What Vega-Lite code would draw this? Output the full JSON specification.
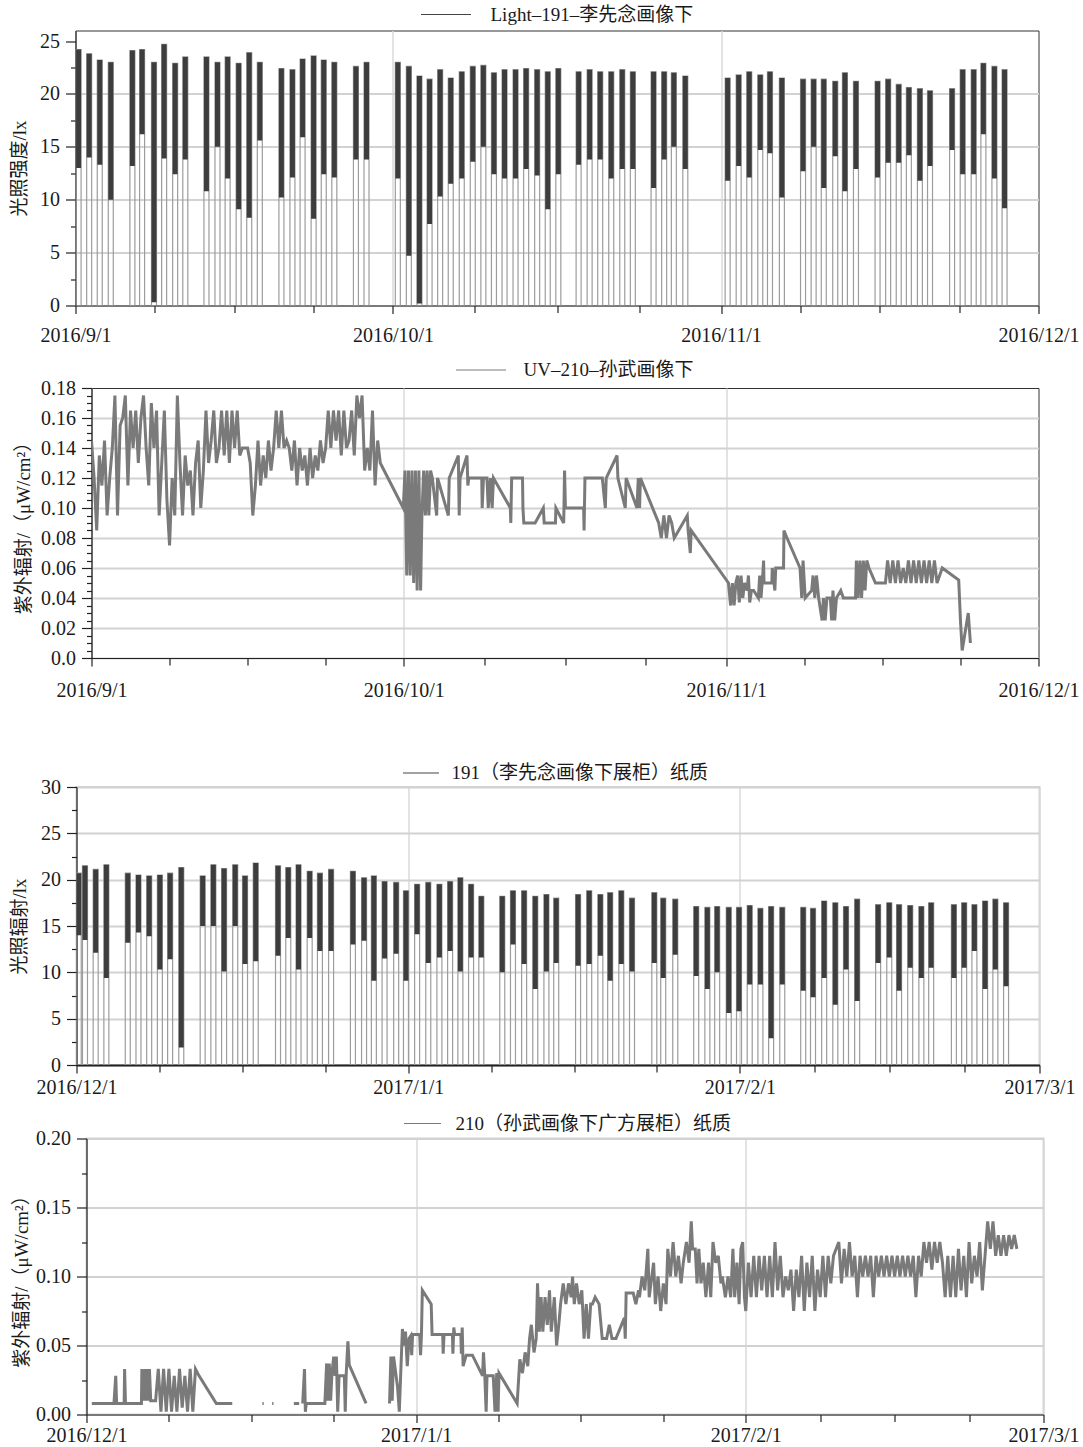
{
"$schema":"https://vega.github.io/schema/vega-lite/v6.json",
"padding":{"left":2.5,"top":4.5,"right":3,"bottom":0},
"align":"none",
"spacing":62.5,
"resolve":{"scale":{"x":"independent","y":"independent","color":"independent"},"legend":{"color":"independent"}},
"vconcat":[
{"align":"none","spacing":13.5,
"resolve":{"scale":{"x":"independent","y":"independent","color":"independent"},"legend":{"color":"independent"}},
"vconcat":[
{"spacing":0,"hconcat":[
{"width":6.3,"height":10,"view":{"stroke":null},"data":{"values":[{"a":0}]},"mark":{"type":"point","opacity":0},"encoding":{}},
{
"width":963,"height":275,
"view":{"stroke":"#333","strokeWidth":1},
"data":{"values":[
{"t":"2016-09-01T07:00","hi":24.2,"lo":13},
{"t":"2016-09-02T07:00","hi":23.8,"lo":14},
{"t":"2016-09-03T07:00","hi":23.2,"lo":13.3},
{"t":"2016-09-04T08:00","hi":23,"lo":10},
{"t":"2016-09-06T09:00","hi":24.1,"lo":13.2},
{"t":"2016-09-07T07:00","hi":24.2,"lo":16.2},
{"t":"2016-09-08T10:00","hi":23,"lo":0.3},
{"t":"2016-09-09T09:00","hi":24.7,"lo":13.9},
{"t":"2016-09-10T10:00","hi":22.9,"lo":12.4},
{"t":"2016-09-11T09:00","hi":23.5,"lo":13.8},
{"t":"2016-09-13T09:00","hi":23.5,"lo":10.8},
{"t":"2016-09-14T10:00","hi":23,"lo":15},
{"t":"2016-09-15T09:00","hi":23.5,"lo":12},
{"t":"2016-09-16T10:00","hi":22.9,"lo":9.1},
{"t":"2016-09-17T10:00","hi":23.9,"lo":8.3},
{"t":"2016-09-18T10:00","hi":23,"lo":15.6},
{"t":"2016-09-20T11:00","hi":22.4,"lo":10.2},
{"t":"2016-09-21T12:00","hi":22.3,"lo":12.1},
{"t":"2016-09-22T11:00","hi":23.3,"lo":15.9},
{"t":"2016-09-23T12:00","hi":23.6,"lo":8.2},
{"t":"2016-09-24T11:00","hi":23.2,"lo":12.4},
{"t":"2016-09-25T11:00","hi":23,"lo":12.1},
{"t":"2016-09-27T12:00","hi":22.6,"lo":13.8},
{"t":"2016-09-28T12:00","hi":23,"lo":13.8},
{"t":"2016-10-01T11:00","hi":23,"lo":12},
{"t":"2016-10-02T12:00","hi":22.6,"lo":4.7},
{"t":"2016-10-03T12:00","hi":21.7,"lo":0.2},
{"t":"2016-10-04T11:00","hi":21.4,"lo":7.7},
{"t":"2016-10-05T11:00","hi":22.3,"lo":10.3},
{"t":"2016-10-06T11:00","hi":21.5,"lo":11.5},
{"t":"2016-10-07T12:00","hi":22.1,"lo":12},
{"t":"2016-10-08T13:00","hi":22.6,"lo":13.6},
{"t":"2016-10-09T13:00","hi":22.7,"lo":15},
{"t":"2016-10-10T13:00","hi":22,"lo":12.4},
{"t":"2016-10-11T13:00","hi":22.3,"lo":12},
{"t":"2016-10-12T14:00","hi":22.3,"lo":12},
{"t":"2016-10-13T14:00","hi":22.4,"lo":12.9},
{"t":"2016-10-14T15:00","hi":22.3,"lo":12.3},
{"t":"2016-10-15T15:00","hi":22.1,"lo":9.1},
{"t":"2016-10-16T15:00","hi":22.4,"lo":12.4},
{"t":"2016-10-18T13:00","hi":22.1,"lo":13.3},
{"t":"2016-10-19T14:00","hi":22.3,"lo":13.8},
{"t":"2016-10-20T14:00","hi":22.1,"lo":13.8},
{"t":"2016-10-21T15:00","hi":22.1,"lo":12},
{"t":"2016-10-22T16:00","hi":22.3,"lo":12.9},
{"t":"2016-10-23T16:00","hi":22.1,"lo":12.9},
{"t":"2016-10-25T15:00","hi":22.1,"lo":11.1},
{"t":"2016-10-26T15:00","hi":22.1,"lo":13.8},
{"t":"2016-10-27T13:00","hi":22,"lo":15},
{"t":"2016-10-28T15:00","hi":21.7,"lo":12.9},
{"t":"2016-11-01T15:00","hi":21.5,"lo":11.8},
{"t":"2016-11-02T16:00","hi":21.8,"lo":13.2},
{"t":"2016-11-03T16:00","hi":22.1,"lo":12.1},
{"t":"2016-11-04T17:00","hi":21.8,"lo":14.7},
{"t":"2016-11-05T15:00","hi":22.1,"lo":14.4},
{"t":"2016-11-06T18:00","hi":21.5,"lo":10.2},
{"t":"2016-11-08T18:00","hi":21.4,"lo":12.7},
{"t":"2016-11-09T18:00","hi":21.4,"lo":15},
{"t":"2016-11-10T17:00","hi":21.4,"lo":11.1},
{"t":"2016-11-11T19:00","hi":21.2,"lo":14.1},
{"t":"2016-11-12T17:00","hi":22,"lo":10.8},
{"t":"2016-11-13T18:00","hi":21.2,"lo":12.9},
{"t":"2016-11-15T19:00","hi":21.2,"lo":12.1},
{"t":"2016-11-16T19:00","hi":21.4,"lo":13.5},
{"t":"2016-11-17T19:00","hi":20.9,"lo":13.5},
{"t":"2016-11-18T18:00","hi":20.6,"lo":14.2},
{"t":"2016-11-19T19:00","hi":20.5,"lo":11.8},
{"t":"2016-11-20T18:00","hi":20.3,"lo":13.2},
{"t":"2016-11-22T20:00","hi":20.5,"lo":14.7},
{"t":"2016-11-23T20:00","hi":22.3,"lo":12.4},
{"t":"2016-11-24T21:00","hi":22.3,"lo":12.4},
{"t":"2016-11-25T19:00","hi":22.9,"lo":16.2},
{"t":"2016-11-26T20:00","hi":22.6,"lo":12},
{"t":"2016-11-27T19:00","hi":22.3,"lo":9.2}
]},
"resolve":{"axis":{"x":"independent","y":"independent"}},
"layer":[
{"mark":{"type":"bar","width":5,"fillOpacity":0,"stroke":"#9c9c9c","strokeWidth":1.2,"clip":true},
"encoding":{
"x":{"field":"t","type":"temporal","scale":{"domain":[{"year":2016,"month":9,"date":1},{"year":2016,"month":12,"date":1}],"padding":0},
"axis":{"values":[{"year":2016,"month":9,"date":1},{"year":2016,"month":10,"date":1},{"year":2016,"month":11,"date":1},{"year":2016,"month":12,"date":1}],"format":"%Y/%-m/%-d","title":null,"grid":true,"gridOpacity":{"condition":{"test":"month(datum.value)==11","value":0},"value":1},"tickSize":8,"labelPadding":12,"labelFlush":false,"orient":"bottom"}},
"y":{"field":"hi","type":"quantitative","scale":{"domain":[0,25]},
"axis":{"values":[0,5,10,15,20,25],"title":"光照强度/lx","tickSize":10,"labelPadding":6,"minExtent":36,"maxExtent":36,"titlePadding":10.4,"grid":true,"gridOpacity":{"condition":{"test":"datum.value==25","value":0},"value":1},"orient":"left"}}
}},
{"mark":{"type":"bar","width":5,"clip":true},
"encoding":{
"x":{"field":"t","type":"temporal","axis":{"values":[{"year":2016,"month":9,"date":8,"hours":12},{"year":2016,"month":9,"date":16},{"year":2016,"month":9,"date":23,"hours":12},{"year":2016,"month":10,"date":8,"hours":18},{"year":2016,"month":10,"date":16,"hours":12},{"year":2016,"month":10,"date":24,"hours":6},{"year":2016,"month":11,"date":8,"hours":12},{"year":2016,"month":11,"date":16},{"year":2016,"month":11,"date":23,"hours":12}],"labels":false,"domain":false,"grid":false,"tickSize":7,"title":null,"orient":"bottom"}},
"y":{"field":"hi","type":"quantitative","axis":{"values":[2.5,7.5,12.5,17.5,22.5],"labels":false,"domain":false,"grid":false,"tickSize":5,"title":null,"orient":"left","minExtent":0}},
"y2":{"field":"lo"},
"color":{"datum":"Light–191–李先念画像下","scale":{"range":["#3d3d3d"]},
"legend":{"title":null,"orient":"none","legendX":434,"legendY":-25.5,"symbolType":"M-5,0H5","symbolSize":100,"symbolStrokeColor":"#444","symbolStrokeWidth":1,"labelOffset":35,"labelLimit":600,
"encode":{"symbols":{"update":{"stroke":{"value":"#444"},"strokeWidth":{"value":1},"fill":{"value":"transparent"}}}}}}
}}
]
}
]},
{"spacing":0,"hconcat":[
{"width":10.5,"height":10,"view":{"stroke":null},"data":{"values":[{"a":0}]},"mark":{"type":"point","opacity":0},"encoding":{}},
{
"width":947,"height":270,
"view":{"stroke":"#333","strokeWidth":1},
"data":{"values":[
{"t":"2016-09-01T00:00","v":0.145},{"t":"2016-09-01T06:00","v":0.12},{"t":"2016-09-01T12:00","v":0.085},{"t":"2016-09-01T18:00","v":0.135},
{"t":"2016-09-02T00:00","v":0.115},{"t":"2016-09-02T06:00","v":0.145},{"t":"2016-09-02T12:00","v":0.095},{"t":"2016-09-02T18:00","v":0.12},
{"t":"2016-09-03T00:00","v":0.14},{"t":"2016-09-03T06:00","v":0.175},{"t":"2016-09-03T12:00","v":0.095},{"t":"2016-09-03T18:00","v":0.155},
{"t":"2016-09-04T00:00","v":0.16},{"t":"2016-09-04T06:00","v":0.175},{"t":"2016-09-04T12:00","v":0.115},{"t":"2016-09-04T18:00","v":0.165},
{"t":"2016-09-05T00:00","v":0.14},{"t":"2016-09-05T06:00","v":0.165},{"t":"2016-09-05T12:00","v":0.13},{"t":"2016-09-05T18:00","v":0.16},
{"t":"2016-09-06T00:00","v":0.175},{"t":"2016-09-06T06:00","v":0.14},{"t":"2016-09-06T12:00","v":0.115},{"t":"2016-09-06T18:00","v":0.17},
{"t":"2016-09-07T00:00","v":0.14},{"t":"2016-09-07T06:00","v":0.165},{"t":"2016-09-07T12:00","v":0.095},{"t":"2016-09-07T18:00","v":0.13},
{"t":"2016-09-08T00:00","v":0.165},{"t":"2016-09-08T06:00","v":0.105},{"t":"2016-09-08T12:00","v":0.075},{"t":"2016-09-08T18:00","v":0.12},
{"t":"2016-09-09T00:00","v":0.095},{"t":"2016-09-09T06:00","v":0.175},{"t":"2016-09-09T12:00","v":0.13},{"t":"2016-09-09T18:00","v":0.095},
{"t":"2016-09-10T00:00","v":0.135},{"t":"2016-09-10T06:00","v":0.115},{"t":"2016-09-10T12:00","v":0.125},{"t":"2016-09-10T18:00","v":0.095},
{"t":"2016-09-11T00:00","v":0.13},{"t":"2016-09-11T06:00","v":0.145},{"t":"2016-09-11T12:00","v":0.1},{"t":"2016-09-11T18:00","v":0.125},
{"t":"2016-09-12T00:00","v":0.165},{"t":"2016-09-12T06:00","v":0.13},{"t":"2016-09-12T12:00","v":0.145},{"t":"2016-09-12T18:00","v":0.165},
{"t":"2016-09-13T00:00","v":0.13},{"t":"2016-09-13T06:00","v":0.14},{"t":"2016-09-13T12:00","v":0.165},{"t":"2016-09-13T18:00","v":0.135},
{"t":"2016-09-14T00:00","v":0.165},{"t":"2016-09-14T06:00","v":0.13},{"t":"2016-09-14T12:00","v":0.165},{"t":"2016-09-14T18:00","v":0.14},
{"t":"2016-09-15T00:00","v":0.165},{"t":"2016-09-15T06:00","v":0.135},{"t":"2016-09-15T12:00","v":0.14},{"t":"2016-09-15T18:00","v":0.14},
{"t":"2016-09-16T00:00","v":0.14},{"t":"2016-09-16T06:00","v":0.13},{"t":"2016-09-16T12:00","v":0.095},{"t":"2016-09-16T18:00","v":0.115},
{"t":"2016-09-17T00:00","v":0.145},{"t":"2016-09-17T06:00","v":0.115},{"t":"2016-09-17T12:00","v":0.135},{"t":"2016-09-17T18:00","v":0.12},
{"t":"2016-09-18T00:00","v":0.145},{"t":"2016-09-18T06:00","v":0.125},{"t":"2016-09-18T12:00","v":0.14},{"t":"2016-09-18T18:00","v":0.165},
{"t":"2016-09-19T00:00","v":0.14},{"t":"2016-09-19T06:00","v":0.165},{"t":"2016-09-19T12:00","v":0.14},{"t":"2016-09-19T18:00","v":0.145},
{"t":"2016-09-20T00:00","v":0.14},{"t":"2016-09-20T06:00","v":0.125},{"t":"2016-09-20T12:00","v":0.145},{"t":"2016-09-20T18:00","v":0.115},
{"t":"2016-09-21T00:00","v":0.14},{"t":"2016-09-21T06:00","v":0.125},{"t":"2016-09-21T12:00","v":0.135},{"t":"2016-09-21T18:00","v":0.115},
{"t":"2016-09-22T00:00","v":0.14},{"t":"2016-09-22T06:00","v":0.12},{"t":"2016-09-22T12:00","v":0.135},{"t":"2016-09-22T18:00","v":0.125},
{"t":"2016-09-23T00:00","v":0.145},{"t":"2016-09-23T06:00","v":0.13},{"t":"2016-09-23T12:00","v":0.14},{"t":"2016-09-23T18:00","v":0.165},
{"t":"2016-09-24T00:00","v":0.14},{"t":"2016-09-24T06:00","v":0.165},{"t":"2016-09-24T12:00","v":0.145},{"t":"2016-09-24T18:00","v":0.165},
{"t":"2016-09-25T00:00","v":0.135},{"t":"2016-09-25T06:00","v":0.165},{"t":"2016-09-25T12:00","v":0.14},{"t":"2016-09-25T18:00","v":0.145},
{"t":"2016-09-26T00:00","v":0.165},{"t":"2016-09-26T06:00","v":0.135},{"t":"2016-09-26T12:00","v":0.175},{"t":"2016-09-26T18:00","v":0.16},
{"t":"2016-09-27T00:00","v":0.175},{"t":"2016-09-27T06:00","v":0.125},{"t":"2016-09-27T12:00","v":0.14},{"t":"2016-09-27T18:00","v":0.125},
{"t":"2016-09-28T00:00","v":0.165},{"t":"2016-09-28T06:00","v":0.115},{"t":"2016-09-28T12:00","v":0.145},{"t":"2016-09-28T18:00","v":0.13},
{"t":"2016-09-30T23:00","v":0.1},
{"t":"2016-10-01T03:00","v":0.125},{"t":"2016-10-01T07:00","v":0.055},{"t":"2016-10-01T11:00","v":0.125},{"t":"2016-10-01T15:00","v":0.055},{"t":"2016-10-01T19:00","v":0.125},{"t":"2016-10-01T23:00","v":0.05},
{"t":"2016-10-02T03:00","v":0.125},{"t":"2016-10-02T07:00","v":0.045},{"t":"2016-10-02T11:00","v":0.125},{"t":"2016-10-02T15:00","v":0.045},{"t":"2016-10-02T18:00","v":0.095},{"t":"2016-10-02T22:00","v":0.125},
{"t":"2016-10-03T02:00","v":0.095},{"t":"2016-10-03T06:00","v":0.125},{"t":"2016-10-03T10:00","v":0.095},{"t":"2016-10-03T14:00","v":0.125},{"t":"2016-10-03T18:00","v":0.12},
{"t":"2016-10-04T04:00","v":0.095},{"t":"2016-10-04T06:00","v":0.12},{"t":"2016-10-05T07:00","v":0.095},{"t":"2016-10-05T09:00","v":0.12},
{"t":"2016-10-06T06:00","v":0.135},{"t":"2016-10-06T08:00","v":0.095},{"t":"2016-10-06T10:00","v":0.12},
{"t":"2016-10-07T02:00","v":0.135},{"t":"2016-10-07T04:00","v":0.115},{"t":"2016-10-07T06:00","v":0.12},
{"t":"2016-10-08T12:00","v":0.12},{"t":"2016-10-08T13:00","v":0.1},{"t":"2016-10-08T16:00","v":0.12},
{"t":"2016-10-09T00:00","v":0.12},{"t":"2016-10-09T03:00","v":0.1},{"t":"2016-10-09T08:00","v":0.12},{"t":"2016-10-09T12:00","v":0.1},{"t":"2016-10-09T15:00","v":0.12},
{"t":"2016-10-11T06:00","v":0.1},{"t":"2016-10-11T07:00","v":0.09},{"t":"2016-10-11T09:00","v":0.12},
{"t":"2016-10-12T10:00","v":0.12},{"t":"2016-10-12T11:00","v":0.1},{"t":"2016-10-12T13:00","v":0.09},
{"t":"2016-10-13T15:00","v":0.09},{"t":"2016-10-14T10:00","v":0.1},{"t":"2016-10-14T12:00","v":0.09},
{"t":"2016-10-15T14:00","v":0.09},{"t":"2016-10-15T15:00","v":0.1},
{"t":"2016-10-16T09:00","v":0.09},{"t":"2016-10-16T11:00","v":0.125},{"t":"2016-10-16T13:00","v":0.1},
{"t":"2016-10-18T07:00","v":0.1},{"t":"2016-10-18T08:00","v":0.085},{"t":"2016-10-18T10:00","v":0.12},
{"t":"2016-10-20T02:00","v":0.12},{"t":"2016-10-20T09:00","v":0.1},{"t":"2016-10-20T11:00","v":0.12},
{"t":"2016-10-21T12:00","v":0.135},{"t":"2016-10-21T14:00","v":0.12},
{"t":"2016-10-22T07:00","v":0.1},{"t":"2016-10-22T09:00","v":0.12},
{"t":"2016-10-23T10:00","v":0.1},{"t":"2016-10-23T13:00","v":0.12},{"t":"2016-10-23T16:00","v":0.1},{"t":"2016-10-23T18:00","v":0.12},
{"t":"2016-10-25T12:00","v":0.09},{"t":"2016-10-25T18:00","v":0.08},
{"t":"2016-10-26T00:00","v":0.095},{"t":"2016-10-26T06:00","v":0.08},{"t":"2016-10-26T12:00","v":0.095},{"t":"2016-10-26T18:00","v":0.09},
{"t":"2016-10-27T00:00","v":0.08},{"t":"2016-10-27T10:00","v":0.085},
{"t":"2016-10-28T06:00","v":0.095},{"t":"2016-10-28T08:00","v":0.085},{"t":"2016-10-28T13:00","v":0.07},{"t":"2016-10-28T15:00","v":0.085},
{"t":"2016-11-01T05:00","v":0.05},{"t":"2016-11-01T10:00","v":0.035},{"t":"2016-11-01T14:00","v":0.05},{"t":"2016-11-01T18:00","v":0.035},{"t":"2016-11-01T22:00","v":0.05},
{"t":"2016-11-02T02:00","v":0.055},{"t":"2016-11-02T06:00","v":0.037},{"t":"2016-11-02T10:00","v":0.055},{"t":"2016-11-02T14:00","v":0.04},{"t":"2016-11-02T18:00","v":0.05},
{"t":"2016-11-03T00:00","v":0.045},{"t":"2016-11-03T03:00","v":0.055},{"t":"2016-11-03T06:00","v":0.037},{"t":"2016-11-03T10:00","v":0.045},{"t":"2016-11-03T15:00","v":0.045},
{"t":"2016-11-04T02:00","v":0.04},{"t":"2016-11-04T05:00","v":0.055},{"t":"2016-11-04T08:00","v":0.04},{"t":"2016-11-04T12:00","v":0.055},{"t":"2016-11-04T14:00","v":0.065},{"t":"2016-11-04T15:00","v":0.05},
{"t":"2016-11-05T09:00","v":0.05},{"t":"2016-11-05T10:00","v":0.06},{"t":"2016-11-05T16:00","v":0.045},{"t":"2016-11-05T18:00","v":0.06},
{"t":"2016-11-06T12:00","v":0.06},{"t":"2016-11-06T13:00","v":0.085},{"t":"2016-11-06T20:00","v":0.08},
{"t":"2016-11-08T02:00","v":0.06},{"t":"2016-11-08T06:00","v":0.04},{"t":"2016-11-08T09:00","v":0.065},{"t":"2016-11-08T14:00","v":0.04},
{"t":"2016-11-09T05:00","v":0.045},{"t":"2016-11-09T08:00","v":0.055},{"t":"2016-11-09T12:00","v":0.04},{"t":"2016-11-09T16:00","v":0.055},{"t":"2016-11-09T21:00","v":0.04},
{"t":"2016-11-10T05:00","v":0.025},{"t":"2016-11-10T08:00","v":0.04},{"t":"2016-11-10T12:00","v":0.025},{"t":"2016-11-10T16:00","v":0.04},
{"t":"2016-11-11T00:00","v":0.04},{"t":"2016-11-11T03:00","v":0.025},{"t":"2016-11-11T06:00","v":0.045},{"t":"2016-11-11T10:00","v":0.025},{"t":"2016-11-11T14:00","v":0.04},
{"t":"2016-11-12T00:00","v":0.045},{"t":"2016-11-12T06:00","v":0.04},{"t":"2016-11-13T10:00","v":0.04},
{"t":"2016-11-13T12:00","v":0.065},{"t":"2016-11-13T16:00","v":0.04},{"t":"2016-11-13T20:00","v":0.065},
{"t":"2016-11-14T00:00","v":0.04},{"t":"2016-11-14T04:00","v":0.065},{"t":"2016-11-14T08:00","v":0.045},{"t":"2016-11-14T12:00","v":0.065},{"t":"2016-11-14T17:00","v":0.06},
{"t":"2016-11-15T08:00","v":0.05},{"t":"2016-11-16T07:00","v":0.05},{"t":"2016-11-16T12:00","v":0.065},{"t":"2016-11-16T18:00","v":0.05},
{"t":"2016-11-17T00:00","v":0.065},{"t":"2016-11-17T06:00","v":0.05},{"t":"2016-11-17T12:00","v":0.065},{"t":"2016-11-17T18:00","v":0.05},
{"t":"2016-11-18T00:00","v":0.06},{"t":"2016-11-18T06:00","v":0.05},{"t":"2016-11-18T12:00","v":0.065},{"t":"2016-11-18T18:00","v":0.05},
{"t":"2016-11-19T00:00","v":0.065},{"t":"2016-11-19T06:00","v":0.05},{"t":"2016-11-19T12:00","v":0.065},{"t":"2016-11-19T18:00","v":0.05},
{"t":"2016-11-20T00:00","v":0.065},{"t":"2016-11-20T06:00","v":0.05},{"t":"2016-11-20T12:00","v":0.065},{"t":"2016-11-20T18:00","v":0.05},
{"t":"2016-11-21T00:00","v":0.065},{"t":"2016-11-21T06:00","v":0.05},{"t":"2016-11-21T18:00","v":0.06},
{"t":"2016-11-23T08:00","v":0.052},{"t":"2016-11-23T12:00","v":0.025},{"t":"2016-11-23T16:00","v":0.005},{"t":"2016-11-24T06:00","v":0.03},{"t":"2016-11-24T11:00","v":0.01}
]},
"resolve":{"axis":{"x":"independent","y":"independent"}},
"layer":[
{"mark":{"type":"line","strokeWidth":3,"clip":true},
"encoding":{
"x":{"field":"t","type":"temporal","scale":{"domain":[{"year":2016,"month":9,"date":1},{"year":2016,"month":12,"date":1}],"padding":0},
"axis":{"values":[{"year":2016,"month":9,"date":1},{"year":2016,"month":10,"date":1},{"year":2016,"month":11,"date":1},{"year":2016,"month":12,"date":1}],"format":"%Y/%-m/%-d","title":null,"grid":true,"gridOpacity":{"condition":{"test":"month(datum.value)==11","value":0},"value":1},"tickSize":8,"labelPadding":14,"labelFlush":false,"orient":"bottom"}},
"y":{"field":"v","type":"quantitative","scale":{"domain":[0,0.18]},
"axis":{"values":[0,0.02,0.04,0.06,0.08,0.1,0.12,0.14,0.16,0.18],"labelExpr":"datum.value==0 ? '0.0' : format(datum.value,'.2f')","title":"紫外辐射/（μW/cm²）","tickSize":10,"labelPadding":6,"minExtent":51,"maxExtent":51,"titlePadding":7.2,"grid":true,"gridOpacity":{"condition":{"test":"datum.value>0.179","value":0},"value":1},"orient":"left"}},
"color":{"datum":"UV–210–孙武画像下","scale":{"range":["#7a7a7a"]},
"legend":{"title":null,"orient":"none","legendX":469,"legendY":-27.5,"symbolType":"M-5,0H5","symbolSize":100,"symbolStrokeColor":"#444","symbolStrokeWidth":1,"labelOffset":33,"labelLimit":600,
"encode":{"symbols":{"update":{"stroke":{"value":"#444"},"strokeWidth":{"value":1},"fill":{"value":"transparent"}}}}}}
}},
{"mark":{"type":"point","opacity":0},
"encoding":{
"x":{"field":"t","type":"temporal","axis":{"values":[{"year":2016,"month":9,"date":8,"hours":12},{"year":2016,"month":9,"date":16},{"year":2016,"month":9,"date":23,"hours":12},{"year":2016,"month":10,"date":8,"hours":18},{"year":2016,"month":10,"date":16,"hours":12},{"year":2016,"month":10,"date":24,"hours":6},{"year":2016,"month":11,"date":8,"hours":12},{"year":2016,"month":11,"date":16},{"year":2016,"month":11,"date":23,"hours":12}],"labels":false,"domain":false,"grid":false,"tickSize":7,"title":null,"orient":"bottom"}},
"y":{"field":"v","type":"quantitative","axis":{"values":[0.005,0.01,0.015,0.025,0.03,0.035,0.045,0.05,0.055,0.065,0.07,0.075,0.085,0.09,0.095,0.105,0.11,0.115,0.125,0.13,0.135,0.145,0.15,0.155,0.165,0.17,0.175],"labels":false,"domain":false,"grid":false,"tickSize":5,"title":null,"orient":"left","minExtent":0}}
}}
]
}
]}
]},
{"align":"none","spacing":15.5,
"resolve":{"scale":{"x":"independent","y":"independent","color":"independent"},"legend":{"color":"independent"}},
"vconcat":[
{"spacing":0,"hconcat":[
{"width":6.5,"height":10,"view":{"stroke":null},"data":{"values":[{"a":0}]},"mark":{"type":"point","opacity":0},"encoding":{}},
{
"width":963,"height":278,
"view":{"stroke":"#d4d4d4","strokeWidth":2},
"data":{"values":[
{"t":"2016-12-01T05:00","hi":20.7,"lo":14},
{"t":"2016-12-01T19:00","hi":21.5,"lo":13.5},
{"t":"2016-12-02T19:00","hi":21.1,"lo":12.1},
{"t":"2016-12-03T19:00","hi":21.6,"lo":9.4},
{"t":"2016-12-05T19:00","hi":20.7,"lo":13.2},
{"t":"2016-12-06T19:00","hi":20.5,"lo":14.3},
{"t":"2016-12-07T19:00","hi":20.4,"lo":13.9},
{"t":"2016-12-08T19:00","hi":20.5,"lo":10.3},
{"t":"2016-12-09T18:00","hi":20.7,"lo":11.4},
{"t":"2016-12-10T19:00","hi":21.3,"lo":1.9},
{"t":"2016-12-12T19:00","hi":20.4,"lo":15},
{"t":"2016-12-13T19:00","hi":21.6,"lo":15},
{"t":"2016-12-14T19:00","hi":21.2,"lo":10.1},
{"t":"2016-12-15T20:00","hi":21.6,"lo":15},
{"t":"2016-12-16T18:00","hi":20.4,"lo":10.9},
{"t":"2016-12-17T18:00","hi":21.8,"lo":11.2},
{"t":"2016-12-19T20:00","hi":21.5,"lo":11.8},
{"t":"2016-12-20T19:00","hi":21.3,"lo":13.7},
{"t":"2016-12-21T18:00","hi":21.6,"lo":10.3},
{"t":"2016-12-22T19:00","hi":20.9,"lo":13.7},
{"t":"2016-12-23T18:00","hi":20.7,"lo":12.3},
{"t":"2016-12-24T19:00","hi":21.1,"lo":12.3},
{"t":"2016-12-26T20:00","hi":20.9,"lo":13},
{"t":"2016-12-27T21:00","hi":20.2,"lo":13.4},
{"t":"2016-12-28T19:00","hi":20.4,"lo":9.1},
{"t":"2016-12-29T19:00","hi":19.8,"lo":11.5},
{"t":"2016-12-30T21:00","hi":19.7,"lo":12},
{"t":"2016-12-31T19:00","hi":18.8,"lo":9.1},
{"t":"2017-01-01T20:00","hi":19.5,"lo":14.1},
{"t":"2017-01-02T21:00","hi":19.7,"lo":11},
{"t":"2017-01-03T22:00","hi":19.5,"lo":11.6},
{"t":"2017-01-04T22:00","hi":19.8,"lo":12.3},
{"t":"2017-01-05T21:00","hi":20.2,"lo":10.1},
{"t":"2017-01-06T21:00","hi":19.5,"lo":11.6},
{"t":"2017-01-07T20:00","hi":18.2,"lo":11.6},
{"t":"2017-01-09T19:00","hi":18.2,"lo":10},
{"t":"2017-01-10T19:00","hi":18.8,"lo":13},
{"t":"2017-01-11T20:00","hi":18.8,"lo":10.9},
{"t":"2017-01-12T21:00","hi":18.2,"lo":8.2},
{"t":"2017-01-13T22:00","hi":18.4,"lo":10.1},
{"t":"2017-01-14T20:00","hi":18,"lo":11},
{"t":"2017-01-16T21:00","hi":18.4,"lo":10.7},
{"t":"2017-01-17T22:00","hi":18.8,"lo":10.9},
{"t":"2017-01-18T23:00","hi":18.4,"lo":11.8},
{"t":"2017-01-19T21:00","hi":18.6,"lo":9.1},
{"t":"2017-01-20T22:00","hi":18.8,"lo":10.9},
{"t":"2017-01-21T22:00","hi":18,"lo":10.1},
{"t":"2017-01-24T00:00","hi":18.6,"lo":11},
{"t":"2017-01-24T20:00","hi":18,"lo":9.4},
{"t":"2017-01-25T23:00","hi":17.9,"lo":11.9},
{"t":"2017-01-27T22:00","hi":17.1,"lo":9.6},
{"t":"2017-01-28T23:00","hi":17,"lo":8.2},
{"t":"2017-01-29T21:00","hi":17.1,"lo":10},
{"t":"2017-01-30T23:00","hi":17,"lo":5.6},
{"t":"2017-01-31T22:00","hi":17,"lo":5.8},
{"t":"2017-02-01T22:00","hi":17.2,"lo":8.7},
{"t":"2017-02-02T22:00","hi":16.9,"lo":8.7},
{"t":"2017-02-03T22:00","hi":17.1,"lo":2.9},
{"t":"2017-02-04T23:00","hi":17,"lo":8.7},
{"t":"2017-02-06T22:00","hi":17,"lo":8},
{"t":"2017-02-07T20:00","hi":16.9,"lo":7.3},
{"t":"2017-02-08T21:00","hi":17.7,"lo":9.4},
{"t":"2017-02-09T22:00","hi":17.5,"lo":6.5},
{"t":"2017-02-10T22:00","hi":17.1,"lo":10.3},
{"t":"2017-02-11T23:00","hi":17.9,"lo":6.9},
{"t":"2017-02-13T22:00","hi":17.3,"lo":11},
{"t":"2017-02-14T23:00","hi":17.5,"lo":11.6},
{"t":"2017-02-15T21:00","hi":17.3,"lo":8},
{"t":"2017-02-16T22:00","hi":17.2,"lo":10.5},
{"t":"2017-02-17T23:00","hi":17.1,"lo":9.4},
{"t":"2017-02-18T21:00","hi":17.5,"lo":10.5},
{"t":"2017-02-21T00:00","hi":17.3,"lo":9.4},
{"t":"2017-02-21T23:00","hi":17.5,"lo":10.5},
{"t":"2017-02-22T22:00","hi":17.3,"lo":12.3},
{"t":"2017-02-23T22:00","hi":17.7,"lo":8.2},
{"t":"2017-02-24T21:00","hi":17.9,"lo":10.3},
{"t":"2017-02-25T21:00","hi":17.5,"lo":8.5}
]},
"resolve":{"axis":{"x":"independent","y":"independent"}},
"layer":[
{"mark":{"type":"bar","width":5,"fillOpacity":0,"stroke":"#9c9c9c","strokeWidth":1.2,"clip":true},
"encoding":{
"x":{"field":"t","type":"temporal","scale":{"domain":[{"year":2016,"month":12,"date":1},{"year":2017,"month":3,"date":1}],"padding":0},
"axis":{"values":[{"year":2016,"month":12,"date":1},{"year":2017,"month":1,"date":1},{"year":2017,"month":2,"date":1},{"year":2017,"month":3,"date":1}],"format":"%Y/%-m/%-d","title":null,"grid":true,"tickSize":8,"labelPadding":4,"labelFlush":false,"orient":"bottom","domainWidth":2}},
"y":{"field":"hi","type":"quantitative","scale":{"domain":[0,30]},
"axis":{"values":[0,5,10,15,20,25,30],"title":"光照辐射/lx","tickSize":10,"labelPadding":6,"minExtent":36,"maxExtent":36,"titlePadding":10.8,"grid":true,"orient":"left"}}
}},
{"mark":{"type":"bar","width":5,"clip":true},
"encoding":{
"x":{"field":"t","type":"temporal","axis":{"values":[{"year":2016,"month":12,"date":8,"hours":18},{"year":2016,"month":12,"date":16,"hours":12},{"year":2016,"month":12,"date":24,"hours":6},{"year":2017,"month":1,"date":8,"hours":18},{"year":2017,"month":1,"date":16,"hours":12},{"year":2017,"month":1,"date":24,"hours":6},{"year":2017,"month":2,"date":8},{"year":2017,"month":2,"date":15},{"year":2017,"month":2,"date":22}],"labels":false,"domain":false,"grid":false,"tickSize":7,"title":null,"orient":"bottom"}},
"y":{"field":"hi","type":"quantitative","axis":{"values":[2.5,7.5,12.5,17.5,22.5,27.5],"labels":false,"domain":false,"grid":false,"tickSize":5,"title":null,"orient":"left","minExtent":0}},
"y2":{"field":"lo"},
"color":{"datum":"191（李先念画像下展柜）纸质","scale":{"range":["#3d3d3d"]},
"legend":{"title":null,"orient":"none","legendX":409,"legendY":-23.5,"symbolType":"M-3.6,0H3.6","symbolSize":100,"symbolStrokeColor":"#444","symbolStrokeWidth":1,"labelOffset":21,"labelLimit":600,
"encode":{"symbols":{"update":{"stroke":{"value":"#444"},"strokeWidth":{"value":1},"fill":{"value":"transparent"}}}}}}
}}
]
}
]},
{"spacing":0,"hconcat":[
{"width":8.5,"height":10,"view":{"stroke":null},"data":{"values":[{"a":0}]},"mark":{"type":"point","opacity":0},"encoding":{}},
{
"width":957,"height":276,
"view":{"stroke":"#d4d4d4","strokeWidth":2},
"data":{"values":[
{"t":"2016-12-01T12:00","v":0.008},{"t":"2016-12-02T06:00","v":0.008},{"t":"2016-12-03T14:00","v":0.008},{"t":"2016-12-03T18:00","v":0.028},{"t":"2016-12-03T20:00","v":0.008},
{"t":"2016-12-04T13:00","v":0.008},{"t":"2016-12-04T14:00","v":0.033},{"t":"2016-12-04T16:00","v":0.008},{"t":"2016-12-05T05:00","v":0.008},
{"t":"2016-12-06T04:00","v":0.008},{"t":"2016-12-06T05:00","v":0.033},{"t":"2016-12-06T08:00","v":0.01},{"t":"2016-12-06T12:00","v":0.033},{"t":"2016-12-06T14:00","v":0.01},{"t":"2016-12-06T17:00","v":0.033},{"t":"2016-12-06T19:00","v":0.01},{"t":"2016-12-06T22:00","v":0.033},
{"t":"2016-12-07T01:00","v":0.01},{"t":"2016-12-07T12:00","v":0.01},{"t":"2016-12-07T18:00","v":0.033},
{"t":"2016-12-08T00:00","v":0.002},{"t":"2016-12-08T06:00","v":0.033},{"t":"2016-12-08T12:00","v":0.002},{"t":"2016-12-08T18:00","v":0.033},
{"t":"2016-12-09T00:00","v":0.002},{"t":"2016-12-09T06:00","v":0.028},{"t":"2016-12-09T12:00","v":0.002},{"t":"2016-12-09T18:00","v":0.033},
{"t":"2016-12-10T00:00","v":0.005},{"t":"2016-12-10T06:00","v":0.028},{"t":"2016-12-10T12:00","v":0.002},{"t":"2016-12-10T18:00","v":0.033},
{"t":"2016-12-11T00:00","v":0.002},{"t":"2016-12-11T06:00","v":0.033},{"t":"2016-12-11T14:00","v":0.028},
{"t":"2016-12-13T05:00","v":0.008},{"t":"2016-12-14T17:00","v":0.008},{"t":"2016-12-15T00:00","v":null},
{"t":"2016-12-17T13:00","v":0.008},{"t":"2016-12-17T16:00","v":0.008},{"t":"2016-12-17T20:00","v":null},
{"t":"2016-12-18T11:00","v":0.008},{"t":"2016-12-18T14:00","v":0.008},{"t":"2016-12-18T20:00","v":null},
{"t":"2016-12-20T12:00","v":0.008},{"t":"2016-12-21T00:00","v":0.008},{"t":"2016-12-21T04:00","v":null},
{"t":"2016-12-21T08:00","v":0.008},{"t":"2016-12-21T12:00","v":0.033},{"t":"2016-12-21T14:00","v":0.002},{"t":"2016-12-21T16:00","v":0.008},{"t":"2016-12-22T22:00","v":0.008},
{"t":"2016-12-23T10:00","v":0.008},{"t":"2016-12-23T14:00","v":0.037},{"t":"2016-12-23T17:00","v":0.01},{"t":"2016-12-23T20:00","v":0.037},{"t":"2016-12-23T23:00","v":0.01},
{"t":"2016-12-24T02:00","v":0.03},{"t":"2016-12-24T06:00","v":0.042},{"t":"2016-12-24T09:00","v":0.028},{"t":"2016-12-24T12:00","v":0.042},{"t":"2016-12-24T15:00","v":0.002},{"t":"2016-12-24T18:00","v":0.028},
{"t":"2016-12-25T06:00","v":0.028},{"t":"2016-12-25T08:00","v":0.002},{"t":"2016-12-25T10:00","v":0.028},{"t":"2016-12-25T14:00","v":0.053},{"t":"2016-12-25T17:00","v":0.036},
{"t":"2016-12-27T07:00","v":0.008},{"t":"2016-12-28T00:00","v":null},
{"t":"2016-12-29T12:00","v":0.008},{"t":"2016-12-29T15:00","v":0.042},{"t":"2016-12-29T18:00","v":0.01},{"t":"2016-12-29T21:00","v":0.042},
{"t":"2016-12-30T02:00","v":0.03},{"t":"2016-12-30T06:00","v":0.02},{"t":"2016-12-30T10:00","v":0.002},{"t":"2016-12-30T17:00","v":0.062},{"t":"2016-12-30T20:00","v":0.05},
{"t":"2016-12-31T00:00","v":0.06},{"t":"2016-12-31T04:00","v":0.035},{"t":"2016-12-31T08:00","v":0.055},{"t":"2016-12-31T12:00","v":0.057},{"t":"2016-12-31T14:00","v":0.043},{"t":"2016-12-31T16:00","v":0.058},
{"t":"2017-01-01T08:00","v":0.058},{"t":"2017-01-01T10:00","v":0.043},{"t":"2017-01-01T12:00","v":0.058},{"t":"2017-01-01T14:00","v":0.09},
{"t":"2017-01-02T10:00","v":0.08},{"t":"2017-01-02T12:00","v":0.058},
{"t":"2017-01-03T12:00","v":0.058},{"t":"2017-01-03T13:00","v":0.044},{"t":"2017-01-03T15:00","v":0.058},
{"t":"2017-01-04T10:00","v":0.058},{"t":"2017-01-04T11:00","v":0.044},{"t":"2017-01-04T13:00","v":0.063},{"t":"2017-01-04T15:00","v":0.058},
{"t":"2017-01-05T05:00","v":0.058},{"t":"2017-01-05T06:00","v":0.044},{"t":"2017-01-05T08:00","v":0.063},{"t":"2017-01-05T10:00","v":0.035},{"t":"2017-01-05T17:00","v":0.043},
{"t":"2017-01-06T07:00","v":0.043},{"t":"2017-01-07T06:00","v":0.028},{"t":"2017-01-07T08:00","v":0.045},{"t":"2017-01-07T11:00","v":0.028},{"t":"2017-01-07T14:00","v":0.002},{"t":"2017-01-07T16:00","v":0.028},
{"t":"2017-01-08T06:00","v":0.028},{"t":"2017-01-08T10:00","v":0.002},{"t":"2017-01-08T14:00","v":0.03},{"t":"2017-01-08T17:00","v":0.002},{"t":"2017-01-08T19:00","v":0.03},
{"t":"2017-01-10T12:00","v":0.008},{"t":"2017-01-10T18:00","v":0.04},
{"t":"2017-01-11T00:00","v":0.03},{"t":"2017-01-11T06:00","v":0.045},{"t":"2017-01-11T12:00","v":0.035},{"t":"2017-01-11T16:00","v":0.055},{"t":"2017-01-11T20:00","v":0.065},
{"t":"2017-01-12T02:00","v":0.045},{"t":"2017-01-12T07:00","v":0.055},{"t":"2017-01-12T10:00","v":0.095},{"t":"2017-01-12T14:00","v":0.06},{"t":"2017-01-12T18:00","v":0.085},{"t":"2017-01-12T22:00","v":0.06},
{"t":"2017-01-13T03:00","v":0.085},{"t":"2017-01-13T08:00","v":0.065},{"t":"2017-01-13T13:00","v":0.09},{"t":"2017-01-13T17:00","v":0.06},
{"t":"2017-01-14T00:00","v":0.085},{"t":"2017-01-14T05:00","v":0.05},{"t":"2017-01-14T10:00","v":0.065},{"t":"2017-01-14T14:00","v":0.08},{"t":"2017-01-14T20:00","v":0.095},
{"t":"2017-01-15T02:00","v":0.08},{"t":"2017-01-15T08:00","v":0.095},{"t":"2017-01-15T14:00","v":0.085},{"t":"2017-01-15T17:00","v":0.1},{"t":"2017-01-15T21:00","v":0.08},
{"t":"2017-01-16T02:00","v":0.095},{"t":"2017-01-16T08:00","v":0.08},{"t":"2017-01-16T14:00","v":0.09},{"t":"2017-01-16T19:00","v":0.055},
{"t":"2017-01-17T00:00","v":0.08},{"t":"2017-01-17T05:00","v":0.055},{"t":"2017-01-17T10:00","v":0.08},{"t":"2017-01-17T14:00","v":0.08},{"t":"2017-01-17T20:00","v":0.085},
{"t":"2017-01-18T05:00","v":0.08},{"t":"2017-01-18T12:00","v":0.055},{"t":"2017-01-18T22:00","v":0.055},
{"t":"2017-01-19T04:00","v":0.065},{"t":"2017-01-19T10:00","v":0.055},{"t":"2017-01-19T19:00","v":0.055},
{"t":"2017-01-20T14:00","v":0.07},{"t":"2017-01-20T16:00","v":0.055},{"t":"2017-01-20T18:00","v":0.088},
{"t":"2017-01-21T10:00","v":0.088},{"t":"2017-01-21T16:00","v":0.08},{"t":"2017-01-21T22:00","v":0.09},
{"t":"2017-01-22T00:00","v":0.085},{"t":"2017-01-22T06:00","v":0.1},{"t":"2017-01-22T12:00","v":0.09},{"t":"2017-01-22T19:00","v":0.12},{"t":"2017-01-22T22:00","v":0.085},
{"t":"2017-01-23T04:00","v":0.1},{"t":"2017-01-23T08:00","v":0.11},{"t":"2017-01-23T12:00","v":0.08},{"t":"2017-01-23T18:00","v":0.1},
{"t":"2017-01-24T00:00","v":0.075},{"t":"2017-01-24T06:00","v":0.095},{"t":"2017-01-24T12:00","v":0.08},{"t":"2017-01-24T16:00","v":0.12},{"t":"2017-01-24T22:00","v":0.1},
{"t":"2017-01-25T04:00","v":0.125},{"t":"2017-01-25T10:00","v":0.1},{"t":"2017-01-25T16:00","v":0.115},{"t":"2017-01-25T22:00","v":0.095},
{"t":"2017-01-26T03:00","v":0.11},{"t":"2017-01-26T10:00","v":0.125},{"t":"2017-01-26T16:00","v":0.11},{"t":"2017-01-26T21:00","v":0.14},
{"t":"2017-01-27T00:00","v":0.12},{"t":"2017-01-27T06:00","v":0.12},{"t":"2017-01-27T10:00","v":0.095},{"t":"2017-01-27T14:00","v":0.12},{"t":"2017-01-27T19:00","v":0.095},
{"t":"2017-01-28T00:00","v":0.11},{"t":"2017-01-28T06:00","v":0.085},{"t":"2017-01-28T12:00","v":0.11},{"t":"2017-01-28T17:00","v":0.085},{"t":"2017-01-28T22:00","v":0.125},
{"t":"2017-01-29T04:00","v":0.11},{"t":"2017-01-29T10:00","v":0.115},{"t":"2017-01-29T16:00","v":0.095},{"t":"2017-01-29T19:00","v":0.1},
{"t":"2017-01-30T02:00","v":0.085},{"t":"2017-01-30T08:00","v":0.1},{"t":"2017-01-30T14:00","v":0.085},{"t":"2017-01-30T19:00","v":0.12},{"t":"2017-01-30T23:00","v":0.085},
{"t":"2017-01-31T04:00","v":0.11},{"t":"2017-01-31T09:00","v":0.08},{"t":"2017-01-31T13:00","v":0.12},{"t":"2017-01-31T17:00","v":0.125},{"t":"2017-01-31T21:00","v":0.085},
{"t":"2017-02-01T00:00","v":0.075},{"t":"2017-02-01T06:00","v":0.11},{"t":"2017-02-01T12:00","v":0.085},{"t":"2017-02-01T18:00","v":0.115},
{"t":"2017-02-02T00:00","v":0.085},{"t":"2017-02-02T06:00","v":0.115},{"t":"2017-02-02T12:00","v":0.09},{"t":"2017-02-02T18:00","v":0.115},
{"t":"2017-02-03T00:00","v":0.085},{"t":"2017-02-03T06:00","v":0.115},{"t":"2017-02-03T12:00","v":0.085},{"t":"2017-02-03T18:00","v":0.125},
{"t":"2017-02-04T00:00","v":0.09},{"t":"2017-02-04T06:00","v":0.115},{"t":"2017-02-04T12:00","v":0.085},{"t":"2017-02-04T18:00","v":0.1},
{"t":"2017-02-05T00:00","v":0.09},{"t":"2017-02-05T06:00","v":0.105},{"t":"2017-02-05T12:00","v":0.075},{"t":"2017-02-05T18:00","v":0.105},
{"t":"2017-02-06T00:00","v":0.085},{"t":"2017-02-06T06:00","v":0.115},{"t":"2017-02-06T12:00","v":0.075},{"t":"2017-02-06T18:00","v":0.11},
{"t":"2017-02-07T00:00","v":0.085},{"t":"2017-02-07T06:00","v":0.115},{"t":"2017-02-07T12:00","v":0.075},{"t":"2017-02-07T18:00","v":0.105},
{"t":"2017-02-08T00:00","v":0.085},{"t":"2017-02-08T06:00","v":0.115},{"t":"2017-02-08T12:00","v":0.085},{"t":"2017-02-08T18:00","v":0.115},
{"t":"2017-02-09T00:00","v":0.095},{"t":"2017-02-09T06:00","v":0.115},{"t":"2017-02-09T18:00","v":0.125},
{"t":"2017-02-10T00:00","v":0.095},{"t":"2017-02-10T06:00","v":0.12},{"t":"2017-02-10T12:00","v":0.1},{"t":"2017-02-10T18:00","v":0.125},
{"t":"2017-02-11T00:00","v":0.1},{"t":"2017-02-11T06:00","v":0.115},{"t":"2017-02-11T12:00","v":0.085},{"t":"2017-02-11T18:00","v":0.115},
{"t":"2017-02-12T00:00","v":0.1},{"t":"2017-02-12T06:00","v":0.115},{"t":"2017-02-12T12:00","v":0.1},{"t":"2017-02-12T18:00","v":0.115},
{"t":"2017-02-13T00:00","v":0.085},{"t":"2017-02-13T06:00","v":0.115},{"t":"2017-02-13T12:00","v":0.1},{"t":"2017-02-13T18:00","v":0.115},
{"t":"2017-02-14T00:00","v":0.1},{"t":"2017-02-14T06:00","v":0.115},{"t":"2017-02-14T12:00","v":0.1},{"t":"2017-02-14T18:00","v":0.115},
{"t":"2017-02-15T00:00","v":0.1},{"t":"2017-02-15T06:00","v":0.115},{"t":"2017-02-15T12:00","v":0.1},{"t":"2017-02-15T18:00","v":0.115},
{"t":"2017-02-16T00:00","v":0.1},{"t":"2017-02-16T06:00","v":0.115},{"t":"2017-02-16T12:00","v":0.1},{"t":"2017-02-16T18:00","v":0.115},
{"t":"2017-02-17T00:00","v":0.085},{"t":"2017-02-17T06:00","v":0.115},{"t":"2017-02-17T12:00","v":0.1},{"t":"2017-02-17T18:00","v":0.125},
{"t":"2017-02-18T00:00","v":0.11},{"t":"2017-02-18T06:00","v":0.125},{"t":"2017-02-18T12:00","v":0.105},{"t":"2017-02-18T18:00","v":0.125},
{"t":"2017-02-19T00:00","v":0.11},{"t":"2017-02-19T06:00","v":0.125},{"t":"2017-02-19T12:00","v":0.11},{"t":"2017-02-19T18:00","v":0.085},
{"t":"2017-02-20T00:00","v":0.115},{"t":"2017-02-20T06:00","v":0.085},{"t":"2017-02-20T12:00","v":0.115},{"t":"2017-02-20T18:00","v":0.085},
{"t":"2017-02-21T00:00","v":0.12},{"t":"2017-02-21T06:00","v":0.09},{"t":"2017-02-21T12:00","v":0.115},{"t":"2017-02-21T18:00","v":0.085},
{"t":"2017-02-22T00:00","v":0.125},{"t":"2017-02-22T06:00","v":0.095},{"t":"2017-02-22T12:00","v":0.115},{"t":"2017-02-22T18:00","v":0.1},
{"t":"2017-02-23T00:00","v":0.125},{"t":"2017-02-23T06:00","v":0.09},{"t":"2017-02-23T12:00","v":0.115},{"t":"2017-02-23T18:00","v":0.14},
{"t":"2017-02-24T00:00","v":0.12},{"t":"2017-02-24T06:00","v":0.14},{"t":"2017-02-24T12:00","v":0.115},{"t":"2017-02-24T18:00","v":0.13},
{"t":"2017-02-25T00:00","v":0.115},{"t":"2017-02-25T06:00","v":0.13},{"t":"2017-02-25T12:00","v":0.115},{"t":"2017-02-25T18:00","v":0.13},
{"t":"2017-02-26T00:00","v":0.12},{"t":"2017-02-26T06:00","v":0.13},{"t":"2017-02-26T12:00","v":0.12}
]},
"resolve":{"axis":{"x":"independent","y":"independent"}},
"layer":[
{"mark":{"type":"line","strokeWidth":3,"clip":true,"invalid":"break-paths-filter-domains"},
"encoding":{
"x":{"field":"t","type":"temporal","scale":{"domain":[{"year":2016,"month":12,"date":1},{"year":2017,"month":3,"date":1}],"padding":0},
"axis":{"values":[{"year":2016,"month":12,"date":1},{"year":2017,"month":1,"date":1},{"year":2017,"month":2,"date":1},{"year":2017,"month":3,"date":1}],"format":"%Y/%-m/%-d","title":null,"grid":true,"tickSize":8,"labelPadding":3,"labelFlush":false,"orient":"bottom"}},
"y":{"field":"v","type":"quantitative","scale":{"domain":[0,0.2]},
"axis":{"values":[0,0.05,0.1,0.15,0.2],"format":".2f","title":"紫外辐射/（μW/cm²）","tickSize":10,"labelPadding":6,"minExtent":51,"maxExtent":51,"titlePadding":3.8,"grid":true,"orient":"left"}},
"color":{"datum":"210（孙武画像下广方展柜）纸质","scale":{"range":["#7a7a7a"]},
"legend":{"title":null,"orient":"none","legendX":410.5,"legendY":-24.5,"symbolType":"M-3.7,0H3.7","symbolSize":100,"symbolStrokeColor":"#444","symbolStrokeWidth":1,"labelOffset":23.5,"labelLimit":600,
"encode":{"symbols":{"update":{"stroke":{"value":"#444"},"strokeWidth":{"value":1},"fill":{"value":"transparent"}}}}}}
}},
{"mark":{"type":"point","opacity":0},
"encoding":{
"x":{"field":"t","type":"temporal","axis":{"values":[{"year":2016,"month":12,"date":8,"hours":18},{"year":2016,"month":12,"date":16,"hours":12},{"year":2016,"month":12,"date":24,"hours":6},{"year":2017,"month":1,"date":8,"hours":18},{"year":2017,"month":1,"date":16,"hours":12},{"year":2017,"month":1,"date":24,"hours":6},{"year":2017,"month":2,"date":8},{"year":2017,"month":2,"date":15},{"year":2017,"month":2,"date":22}],"labels":false,"domain":false,"grid":false,"tickSize":7,"title":null,"orient":"bottom"}},
"y":{"field":"v","type":"quantitative","axis":{"values":[0.025,0.075,0.125,0.175],"labels":false,"domain":false,"grid":false,"tickSize":5,"title":null,"orient":"left","minExtent":0}}
}}
]
}
]}
]}
],
"config":{
"font":"Liberation Serif, Noto Sans CJK SC",
"view":{"stroke":"#333"},
"axis":{"labelFont":"Liberation Serif, Noto Sans CJK SC","labelFontSize":20,"labelColor":"#1a1a1a","titleFont":"Liberation Serif, Noto Sans CJK SC","titleFontSize":19,"titleFontWeight":"normal","titleColor":"#1a1a1a","domainColor":"#222","domainWidth":1.2,"tickColor":"#222","tickWidth":1.2,"gridColor":"#d2d2d2","gridWidth":2},
"axisX":{"gridColor":"#dadada","gridWidth":1.5},
"legend":{"labelFont":"Liberation Serif, Noto Sans CJK SC","labelFontSize":19,"labelColor":"#1a1a1a"}
}
}
